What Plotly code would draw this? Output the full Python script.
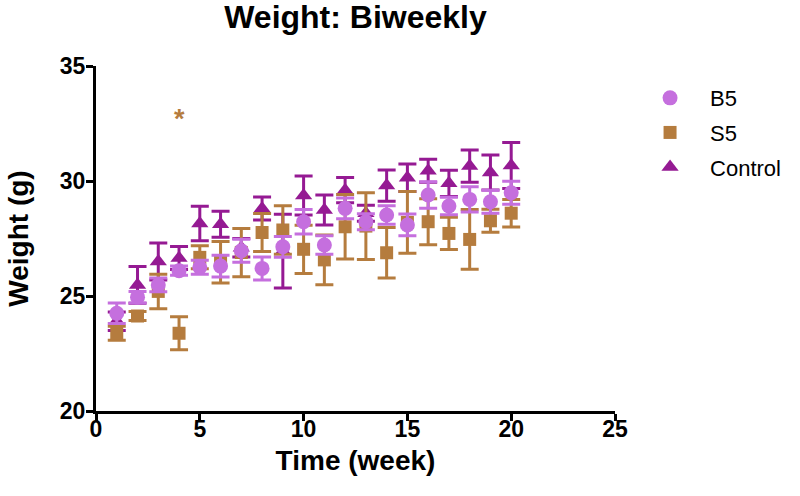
import plotly.graph_objects as go

weeks = list(range(1, 21))

b5_mean = [24.25, 24.95, 25.48, 26.10, 26.25, 26.30, 26.97, 26.20, 27.14, 28.23,
           27.22, 28.81, 28.23, 28.52, 28.09, 29.39, 28.91, 29.20, 29.10, 29.49]
b5_err = [0.45, 0.25, 0.30, 0.20, 0.30, 0.47, 0.50, 0.50, 0.45, 0.53,
          0.40, 0.45, 0.35, 0.40, 0.47, 0.58, 0.38, 0.55, 0.50, 0.50]

s5_mean = [23.38, 24.13, 25.20, 23.38, 26.68, 26.47, 26.89, 27.76, 27.87, 27.03,
           26.57, 28.01, 28.04, 26.88, 28.20, 28.23, 27.72, 27.46, 28.27, 28.60]
s5_err = [0.30, 0.20, 0.75, 0.72, 0.50, 0.90, 1.05, 0.83, 1.05, 1.05,
          1.08, 1.40, 1.45, 1.10, 1.34, 1.00, 0.70, 1.30, 0.50, 0.60]

ctrl_mean = [23.90, 25.48, 26.50, 26.65, 28.15, 28.12, 27.10, 28.80, 26.95, 29.37,
             28.74, 29.60, 28.60, 29.80, 30.14, 30.45, 29.90, 30.65, 30.37, 30.67]
ctrl_err = [0.40, 0.80, 0.80, 0.50, 0.75, 0.57, 0.40, 0.50, 1.60, 0.85,
            0.65, 0.55, 0.35, 0.68, 0.60, 0.50, 0.57, 0.70, 0.76, 1.00]

sig_week = [4]
sig_y = [32.83]

C_B5 = "#C56FDE"
C_S5 = "#B57C3E"
C_CTRL = "#951A93"

FONT = "Liberation Sans"

fig = go.Figure()

fig.add_trace(go.Scatter(
    x=weeks, y=ctrl_mean, mode="markers", name="Control", legendgroup="c", legendrank=3,
    marker=dict(symbol="triangle-up", size=15, color=C_CTRL),
    error_y=dict(type="data", array=ctrl_err, color=C_CTRL, thickness=3, width=9),
))
fig.add_trace(go.Scatter(
    x=weeks, y=s5_mean, mode="markers", name="S5", legendgroup="s", legendrank=2,
    marker=dict(symbol="square", size=13, color=C_S5),
    error_y=dict(type="data", array=s5_err, color=C_S5, thickness=3, width=9),
))
fig.add_trace(go.Scatter(
    x=weeks, y=b5_mean, mode="markers", name="B5", legendgroup="b", legendrank=1,
    marker=dict(symbol="circle", size=15, color=C_B5),
    error_y=dict(type="data", array=b5_err, color=C_B5, thickness=3, width=9),
))

for xw, yv in zip(sig_week, sig_y):
    fig.add_annotation(x=xw, y=yv, text="*", showarrow=False, yshift=-3,
                       font=dict(size=27, color=C_S5, family=FONT, weight="bold"),
                       xref="x", yref="y")

axis_common = dict(
    showline=True, linecolor="black", linewidth=3,
    ticks="outside", ticklen=7, tickwidth=2.5, tickcolor="black",
    showgrid=False, zeroline=False,
    tickfont=dict(family=FONT, size=23, color="black", weight="bold"),
)

fig.update_layout(
    width=800, height=496,
    margin=dict(l=96, r=185, t=66, b=85),
    paper_bgcolor="white", plot_bgcolor="white",
    title=dict(text="Weight: Biweekly", x=(96 + 259.5) / 800, xanchor="center",
               y=1 - 17 / 496, yanchor="middle", yref="container",
               font=dict(family=FONT, size=32, color="black", weight="bold")),
    xaxis=dict(range=[0, 25], tickvals=[0, 5, 10, 15, 20, 25], ticklabelstandoff=-12,
               title=dict(text="Time (week)", standoff=10,
                          font=dict(family=FONT, size=28, color="black", weight="bold")),
               **axis_common),
    yaxis=dict(range=[20, 35], tickvals=[20, 25, 30, 35], ticklabelstandoff=-4,
               title=dict(text="Weight (g)", standoff=24,
                          font=dict(family=FONT, size=28, color="black", weight="bold")),
               **axis_common),
    legend=dict(x=1.029, y=0.968, xanchor="left", yanchor="top",
                traceorder="grouped", tracegroupgap=3, itemwidth=70,
                bgcolor="rgba(0,0,0,0)",
                font=dict(family=FONT, size=22, color="black")),
    showlegend=True,
)

fig.write_html("out.html",
               config={"displayModeBar": False},
               post_script="document.body.style.margin='0px';document.body.style.overflow='hidden';")
